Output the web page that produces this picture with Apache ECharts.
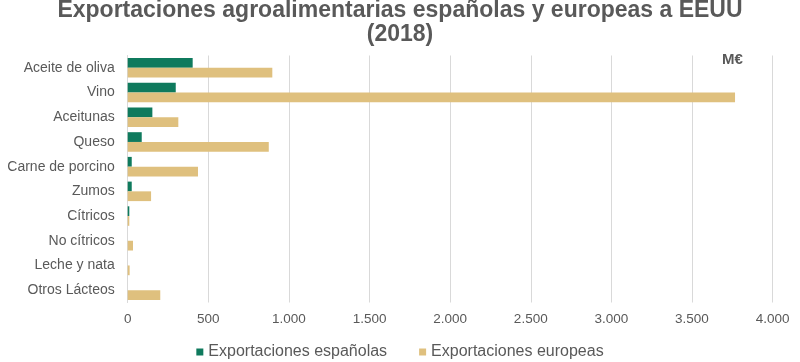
<!DOCTYPE html>
<html><head><meta charset="utf-8">
<script src="https://cdn.jsdelivr.net/npm/echarts@6/dist/echarts.min.js"></script>
<style>html,body{margin:0;padding:0;background:#fff}#c{width:800px;height:362px}</style>
</head><body><div id="c"></div>
<script>
const categories = ["Aceite de oliva","Vino","Aceitunas","Queso","Carne de porcino","Zumos","Cítricos","No cítricos","Leche y nata","Otros Lácteos"];
const espanolas = [403, 298, 153, 87, 25, 25, 10, 0, 0, 0];
const europeas = [897, 3767, 314, 875, 436, 145, 10, 33, 12, 202];
const seriesNames = ["Exportaciones españolas","Exportaciones europeas"];
const titleText = "Exportaciones agroalimentarias españolas y europeas a EEUU\n(2018)";
const unitText = "M€";

const chart = echarts.init(document.getElementById('c'), null, {renderer:'canvas'});
chart.setOption({
  animation:false,
  backgroundColor:'#fff',
  title:{text:titleText,left:'center',top:-6,
    textStyle:{fontFamily:'Liberation Sans',fontWeight:'bold',fontSize:23,color:'#595959',lineHeight:24}},
  graphic:[{type:'text',left:722,top:52,style:{text:unitText,fontFamily:'Liberation Sans',fontWeight:'bold',fontSize:15,fill:'#595959'}}],
  legend:{top:339,left:'center',itemWidth:7,itemHeight:7,itemGap:32,icon:'rect',
    textStyle:{fontFamily:'Liberation Sans',fontSize:16,color:'#595959'},data:seriesNames},
  grid:{left:127.7,right:27.4,top:55.5,bottom:59.5,containLabel:false},
  xAxis:{type:'value',min:0,max:4000,interval:500,
    axisLine:{show:false},axisTick:{show:false},
    splitLine:{lineStyle:{color:'#d9d9d9',width:1}},
    axisLabel:{fontFamily:'Liberation Sans',fontSize:13.5,color:'#595959',margin:10,
      formatter:v=>String(v).replace(/\B(?=(\d{3})+(?!\d))/g,'.')}},
  yAxis:{type:'category',data:categories,inverse:true,
    axisLine:{show:true,lineStyle:{color:'#d9d9d9'}},axisTick:{show:false},
    axisLabel:{fontFamily:'Liberation Sans',fontSize:14,color:'#595959',margin:13}},
  series:[
    {name:seriesNames[0],type:'bar',data:espanolas,itemStyle:{color:'#0f7a5d'},barGap:'0%',barCategoryGap:'21%'},
    {name:seriesNames[1],type:'bar',data:europeas,itemStyle:{color:'#dfc07e'},barGap:'0%',barCategoryGap:'21%'}
  ]
});
</script></body></html>
